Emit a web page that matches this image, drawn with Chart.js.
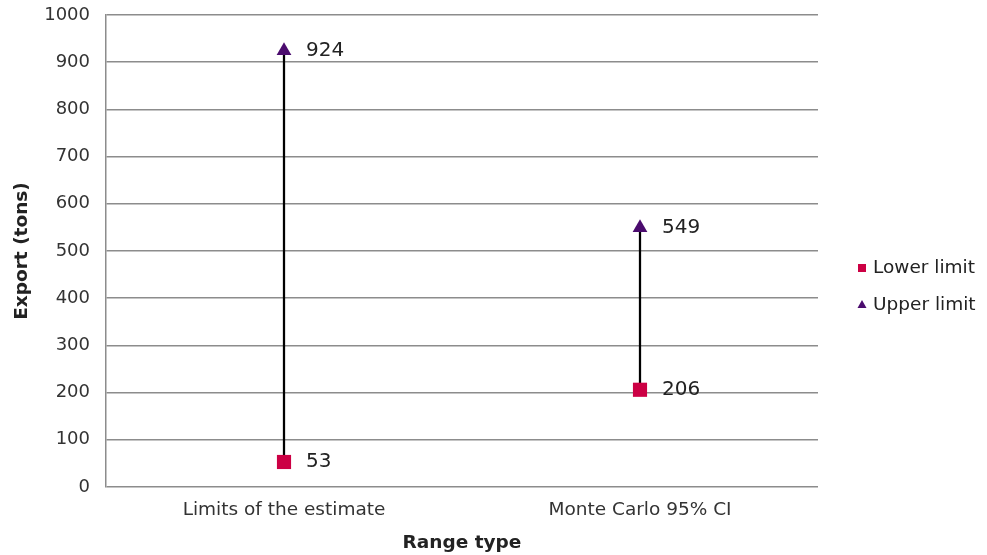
<!DOCTYPE html>
<html>
<head>
<meta charset="utf-8">
<script src="https://cdn.jsdelivr.net/npm/chart.js@4/dist/chart.umd.min.js"></script>
<style>
  html, body { margin: 0; padding: 0; background: #fff; }
  #wrap { width: 987px; height: 555px; }
</style>
</head>
<body>
<div id="wrap"><canvas id="chart"></canvas></div>
<script>
// Data
const categories = ['Limits of the estimate', 'Monte Carlo 95% CI'];
const lowerLimit = [53, 206];
const upperLimit = [924, 549];
const yTicks = [0, 100, 200, 300, 400, 500, 600, 700, 800, 900, 1000];

const RED = '#cc0044';
const PURPLE = '#4b0c6e';
const FONT = "'DejaVu Sans', Verdana, sans-serif";

// value labels to the right of each marker
const valueLabels = {
  id: 'valueLabels',
  afterDatasetsDraw(chart) {
    const ctx = chart.ctx;
    ctx.save();
    ctx.font = '20px ' + FONT;
    ctx.fillStyle = '#222';
    ctx.textBaseline = 'middle';
    ctx.textAlign = 'left';
    [1, 2].forEach(di => {
      chart.getDatasetMeta(di).data.forEach((pt, i) => {
        ctx.fillText(chart.data.datasets[di].data[i], pt.x + 22, pt.y);
      });
    });
    ctx.restore();
  }
};

// legend on the right
const sideLegend = {
  id: 'sideLegend',
  afterDraw(chart) {
    const ctx = chart.ctx;
    ctx.save();
    ctx.font = '18.5px ' + FONT;
    ctx.textBaseline = 'middle';
    const items = [
      { label: 'Lower limit', y: 268, draw: () => { ctx.fillStyle = RED; ctx.fillRect(858, 264, 8, 8); } },
      { label: 'Upper limit', y: 305, draw: () => {
          ctx.fillStyle = PURPLE; ctx.beginPath();
          ctx.moveTo(862, 300); ctx.lineTo(866.5, 308); ctx.lineTo(857.5, 308); ctx.closePath(); ctx.fill(); } }
    ];
    items.forEach(it => {
      it.draw();
      ctx.fillStyle = '#222';
      ctx.fillText(it.label, 873, it.y);
    });
    ctx.restore();
  }
};

new Chart(document.getElementById('chart'), {
  data: {
    labels: categories,
    datasets: [
      {
        type: 'bar',
        label: 'range',
        data: lowerLimit.map((lo, i) => [lo, upperLimit[i]]),
        backgroundColor: '#000',
        barThickness: 1.6,
        order: 2
      },
      {
        type: 'line',
        label: 'Lower limit',
        data: lowerLimit,
        showLine: false,
        pointStyle: 'rect',
        pointRadius: 10,
        pointHoverRadius: 10,
        backgroundColor: RED,
        borderColor: RED,
        borderWidth: 0,
        order: 1
      },
      {
        type: 'line',
        label: 'Upper limit',
        data: upperLimit,
        showLine: false,
        pointStyle: 'triangle',
        pointRadius: 8.5,
        pointHoverRadius: 8.5,
        backgroundColor: PURPLE,
        borderColor: PURPLE,
        borderWidth: 0,
        order: 0
      }
    ]
  },
  options: {
    responsive: true,
    maintainAspectRatio: false,
    animation: false,
    layout: { padding: { left: 0, top: 15, right: 169, bottom: 0 } },
    plugins: {
      legend: { display: false },
      tooltip: { enabled: false }
    },
    scales: {
      x: {
        offset: true,
        grid: { display: false, drawTicks: false },
        border: { display: false },
        ticks: { color: '#333', font: { family: FONT, size: 18.5 }, padding: 12 },
        title: { display: true, text: 'Range type', color: '#222', font: { family: FONT, size: 18.5, weight: 'bold' }, padding: { top: 1, bottom: 1 } },
        afterFit(scale) { scale.height = 68; }
      },
      y: {
        min: 0,
        max: 1000,
        afterBuildTicks(scale) { scale.ticks = yTicks.map(v => ({ value: v })); },
        grid: { color: '#8c8c8c', lineWidth: 1.5, drawTicks: false },
        border: { display: true, color: '#8c8c8c', width: 1.5 },
        ticks: { color: '#333', font: { family: FONT, size: 18 }, padding: 16, callback: v => String(v) },
        title: { display: true, text: 'Export (tons)', color: '#222', font: { family: FONT, size: 18.5, weight: 'bold' }, padding: { top: 11, bottom: 11 } },
        afterFit(scale) { scale.width = 106; scale.paddingTop = 0; scale.paddingBottom = 0; }
      }
    }
  },
  plugins: [valueLabels, sideLegend]
});
</script>
</body>
</html>
